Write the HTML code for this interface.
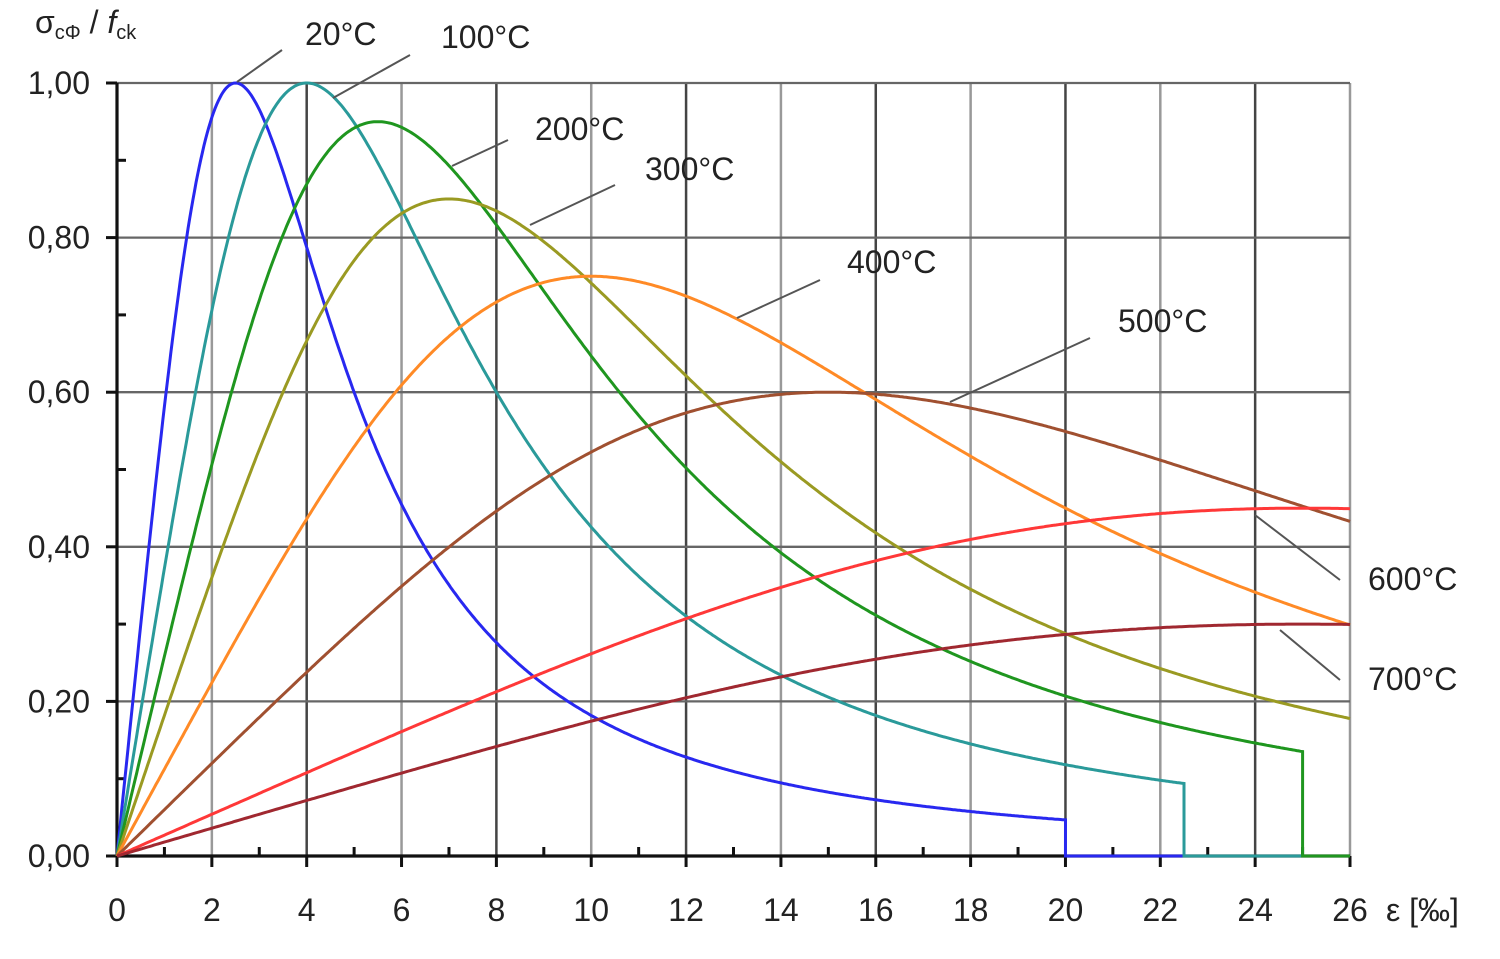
<!DOCTYPE html>
<html><head><meta charset="utf-8"><style>
body{margin:0;background:#fff;}
svg text{font-family:"Liberation Sans",sans-serif;fill:#222;}
</style></head><body>
<svg id="s" width="1500" height="954" xmlns="http://www.w3.org/2000/svg"></svg>
<script>
const s=document.getElementById('s');
const X=e=>117+e*1233/26, Y=v=>856-v*773;
let h='';
for(let i=2;i<=26;i+=2){const c=(i%4==0)?'#444':'#999';h+=`<line x1="${X(i)}" y1="83" x2="${X(i)}" y2="856" stroke="${c}" stroke-width="2.5"/>`;}
for(let j=1;j<=5;j++){h+=`<line x1="117" y1="${Y(j*0.2)}" x2="1350" y2="${Y(j*0.2)}" stroke="#666" stroke-width="2.3"/>`;}
h+=`<line x1="117" y1="83" x2="117" y2="857" stroke="#111" stroke-width="3.2"/>`;
h+=`<line x1="116" y1="856" x2="1350" y2="856" stroke="#111" stroke-width="3.2"/>`;
for(let j=0;j<=10;j++){const y=Y(j*0.1);h+=`<line x1="${j%2?117:106}" y1="${y}" x2="${j%2?126:117}" y2="${y}" stroke="#111" stroke-width="3"/>`;}
for(let i=0;i<=26;i++){const x=X(i);h+=i%2?`<line x1="${x}" y1="847" x2="${x}" y2="856" stroke="#111" stroke-width="3"/>`:`<line x1="${x}" y1="856" x2="${x}" y2="867" stroke="#111" stroke-width="3"/>`;}
for(let j=0;j<=5;j++){h+=`<text x="90" y="${Y(j*0.2)+11}" font-size="32" text-anchor="end">${(j*0.2).toFixed(2).replace('.',',')}</text>`;}
for(let i=0;i<=26;i+=2){h+=`<text x="${X(i)}" y="921" font-size="32" text-anchor="middle">${i}</text>`;}
h+=`<text x="1386" y="921" font-size="32">ε [‰]</text>`;
h+=`<text x="35" y="33" font-size="32" font-family="Liberation Serif">σ<tspan font-size="20" dy="6">cΦ</tspan><tspan dy="-6"> / </tspan><tspan font-style="italic">f</tspan><tspan font-size="20" dy="6">ck</tspan></text>`;
const C=[[2.5,1,20,'#2828f0'],[4,1,22.5,'#2a9a9a'],[5.5,0.95,25,'#1f961f'],[7,0.85,27,'#9a9a22'],[10,0.75,30,'#ff8a26'],[15,0.6,35,'#a05030'],[25,0.45,40,'#ff3838'],[25,0.3,45,'#a02830']];
for(const [e1,f,eu,col] of C){
 let p=[];const end=Math.min(eu,26);
 for(let k=0;k<=600;k++){const e=end*k/600;const v=3*e*f/(e1*(2+Math.pow(e/e1,3)));p.push(X(e).toFixed(1)+','+Y(v).toFixed(1));}
 if(eu<26){p.push(X(eu)+','+Y(0));p.push(X(26)+','+Y(0));}
 h+=`<polyline points="${p.join(' ')}" fill="none" stroke="${col}" stroke-width="3"/>`;
}
const L=[[237,82,282,50],[333,98,410,55],[452,166,508,140],[530,225,615,185],[737,318,820,280],[950,402,1090,338],[1255,515,1340,580],[1280,630,1340,680]];
for(const l of L)h+=`<line x1="${l[0]}" y1="${l[1]}" x2="${l[2]}" y2="${l[3]}" stroke="#555" stroke-width="2"/>`;
const T=[[305,45,'20°C'],[441,48,'100°C'],[535,140,'200°C'],[645,180,'300°C'],[847,273,'400°C'],[1118,332,'500°C'],[1368,590,'600°C'],[1368,690,'700°C']];
for(const t of T)h+=`<text x="${t[0]}" y="${t[1]}" font-size="32">${t[2]}</text>`;
s.innerHTML=h;
</script>
</body></html>
